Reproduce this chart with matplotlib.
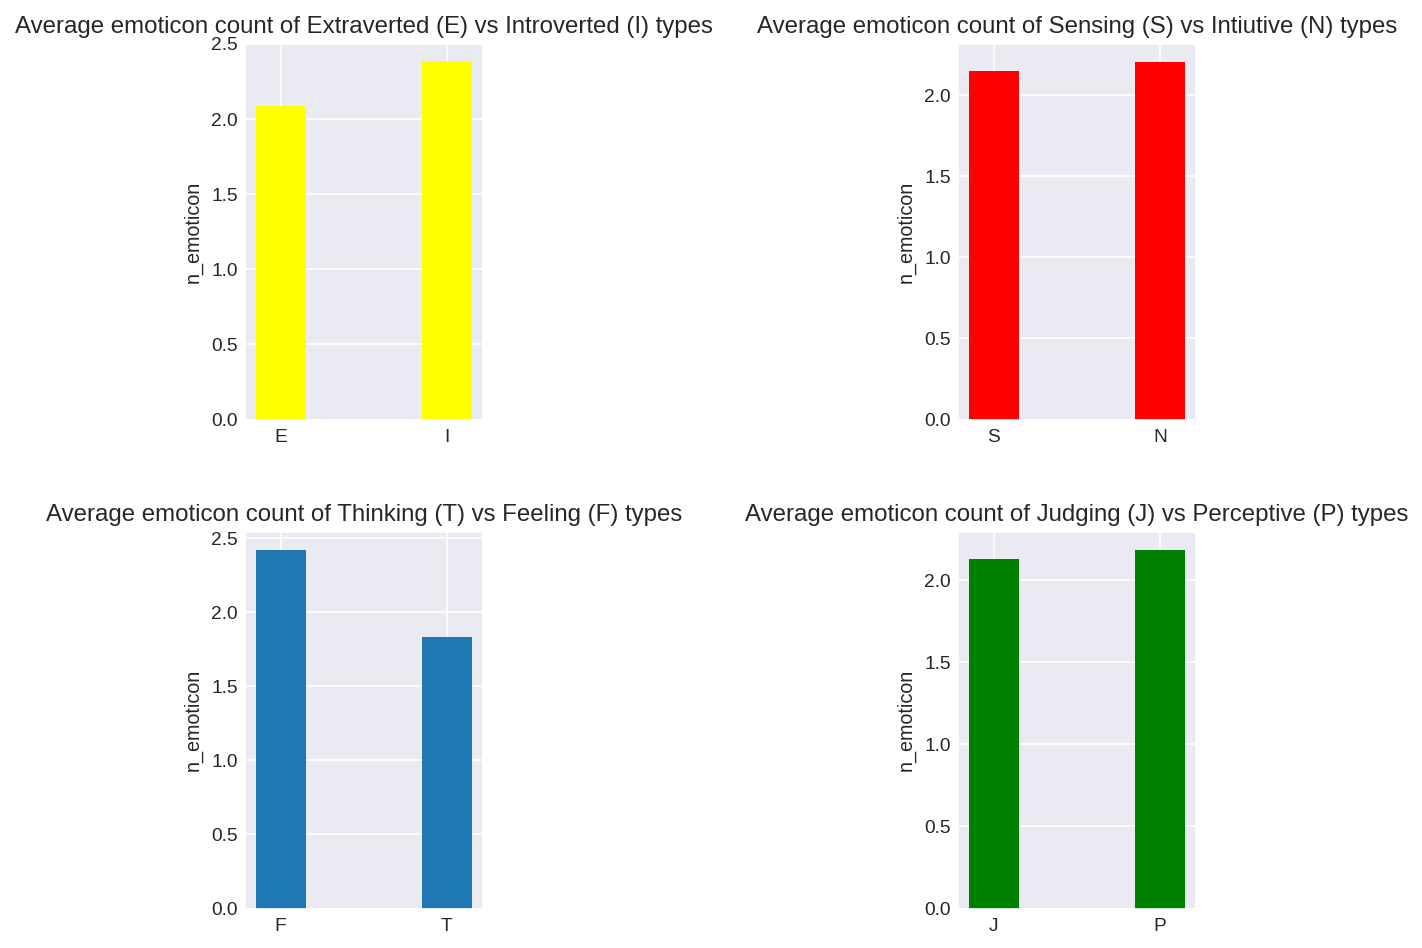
import matplotlib
matplotlib.use("Agg")
import matplotlib.pyplot as plt
import seaborn as sns

sns.set_style("darkgrid")
plt.rcParams['font.family'] = ['Liberation Sans', 'DejaVu Sans']

titles = [
    "Average emoticon count of Extraverted (E) vs Introverted (I) types",
    "Average emoticon count of Sensing (S) vs Intiutive (N) types",
    "Average emoticon count of Thinking (T) vs Feeling (F) types",
    "Average emoticon count of Judging (J) vs Perceptive (P) types",
]
labels = [["E", "I"], ["S", "N"], ["F", "T"], ["J", "P"]]
values = [[2.09, 2.385], [2.15, 2.205], [2.42, 1.835], [2.13, 2.185]]
colors = ["yellow", "red", "#1f77b4", "green"]
ylims = [2.5, None, None, None]
# axes boxes in pixels: left, top, right, bottom
boxes = [(245, 44, 482.5, 419.5), (958, 44, 1195.5, 419.5), (245, 532, 482.5, 908.5), (958, 532, 1195.5, 908.5)]

W, H = 1422, 948
fig = plt.figure(figsize=(W / 150, H / 150), dpi=150)

for i in range(4):
    l, t, r, b = boxes[i]
    ax = fig.add_axes([l / W, 1 - b / H, (r - l) / W, (b - t) / H])
    ax.bar(labels[i], values[i], width=0.3, color=colors[i], linewidth=0, zorder=2)
    if ylims[i]:
        ax.set_ylim(0, ylims[i])
    ax.set_title(titles[i], fontsize=11.5, pad=5.5)
    ax.set_ylabel("n_emoticon", fontsize=9.5, labelpad=4)
    ax.tick_params(axis="x", labelsize=9.2, length=0, pad=4.5)
    ax.tick_params(axis="y", labelsize=9.2, length=0, pad=3.5)

plt.savefig("out.png", dpi=150)
